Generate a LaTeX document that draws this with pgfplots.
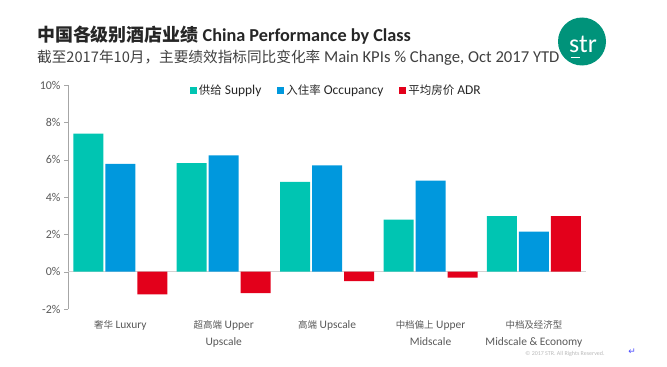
\documentclass[border=0pt]{standalone}
\usepackage{pgfplots}
\pgfplotsset{compat=1.18}
\usepackage{fontspec}
\setmainfont{Carlito}
\newfontfamily\cjk{Noto Sans CJK SC}
\newfontfamily\dejavu{DejaVu Sans}
\definecolor{supply}{HTML}{00C5B2}
\definecolor{occ}{HTML}{0098DD}
\definecolor{adr}{HTML}{E3001B}
\definecolor{logo}{HTML}{00937A}
\definecolor{txt}{HTML}{595959}
\definecolor{ttl}{HTML}{262626}
\newcommand\zhc[1]{{\fontsize{9.5}{17}\selectfont\cjk #1}}
\newcommand\zhl[1]{{\fontsize{11.5}{13}\selectfont\cjk #1}}
\newcommand\zhs[1]{{\fontsize{14.7}{18}\selectfont\cjk #1}}

\begin{document}
\begin{tikzpicture}[x=1bp,y=1bp]
\path[use as bounding box] (0,0) rectangle (667,366);
\node[anchor=west, inner sep=0] at (37,330.5) {\fontsize{18}{20}\selectfont\bfseries\color{ttl}{\cjk 中国各级别酒店业绩} {\fontsize{18.3}{20}\selectfont China Performance by Class}};
\node[anchor=west, inner sep=0] at (37,308) {\fontsize{16.7}{19}\selectfont\color[HTML]{404040}\zhs{截至}\zhs{2017}\zhs{年}\zhs{10}\zhs{月，主要绩效指标同比变化率} Main KPIs \% Change, Oct 2017 YTD};
\fill[logo] (582,324.5) circle (24);
\node[white, inner sep=0, anchor=base] at (583,314) {\fontsize{26}{26}\selectfont str};
\draw[white, line width=1.8bp] (570.5,308.5) -- (579.5,308.5);
\begin{axis}[
  at={(68bp,57bp)}, anchor=south west, scale only axis,
  width=523bp, height=224bp,
  ybar=2bp, bar width=30bp,
  xmin=-0.506, xmax=4.552, ymin=-2, ymax=10,
  ytick={-2,0,2,4,6,8,10},
  yticklabels={-2\%,0\%,2\%,4\%,6\%,8\%,10\%},
  xtick={0,1,2,3,4},
  xticklabels={{\zhc{奢华} Luxury},{\zhc{超高端} Upper\\Upscale},{\zhc{高端} Upscale},{\zhc{中档偏上} Upper\\Midscale},{\zhc{中档及经济型}\\Midscale \& Economy}},
  xticklabel style={align=center, font=\fontsize{11.5}{17}\selectfont, text=txt, yshift=-4bp},
  yticklabel style={font=\fontsize{12}{13}\selectfont, text=txt},
  axis lines*=left,
  x axis line style={draw=none},
  y axis line style={draw=gray!70},
  major x tick style={draw=none},
  ytick style={draw=gray!70},
  tick align=outside, major tick length=4bp,
  legend style={at={(0.513,0.975)}, anchor=center, draw=none, fill=none,
    legend columns=3, font=\fontsize{13.5}{15}\selectfont, text=ttl,
    /tikz/every even column/.append style={column sep=14bp}},
  legend image code/.code={\fill[#1,draw=none] (0bp,-3.5bp) rectangle (7bp,3.5bp);},
  clip=false,
]
\draw[gray!35] (axis cs:-0.506,0) -- (axis cs:4.5,0);
\addplot[fill=supply, draw=none] coordinates {(0,7.4) (1,5.82) (2,4.81) (3,2.79) (4,2.97)};
\addplot[fill=occ, draw=none] coordinates {(0,5.77) (1,6.23) (2,5.7) (3,4.88) (4,2.14)};
\addplot[fill=adr, draw=none] coordinates {(0,-1.22) (1,-1.15) (2,-0.5) (3,-0.32) (4,2.97)};
\legend{{\zhl{供给} Supply},{\zhl{入住率} Occupancy},{\zhl{平均房价} ADR}}
\end{axis}
\node[text=gray!55, inner sep=0, font=\fontsize{6}{7}\selectfont] at (565,12) {© 2017 STR. All Rights Reserved.};
\node[text=blue!70, inner sep=0, font=\fontsize{9}{10}\selectfont] at (632,14) {\dejavu ↵};
\end{tikzpicture}
\end{document}
